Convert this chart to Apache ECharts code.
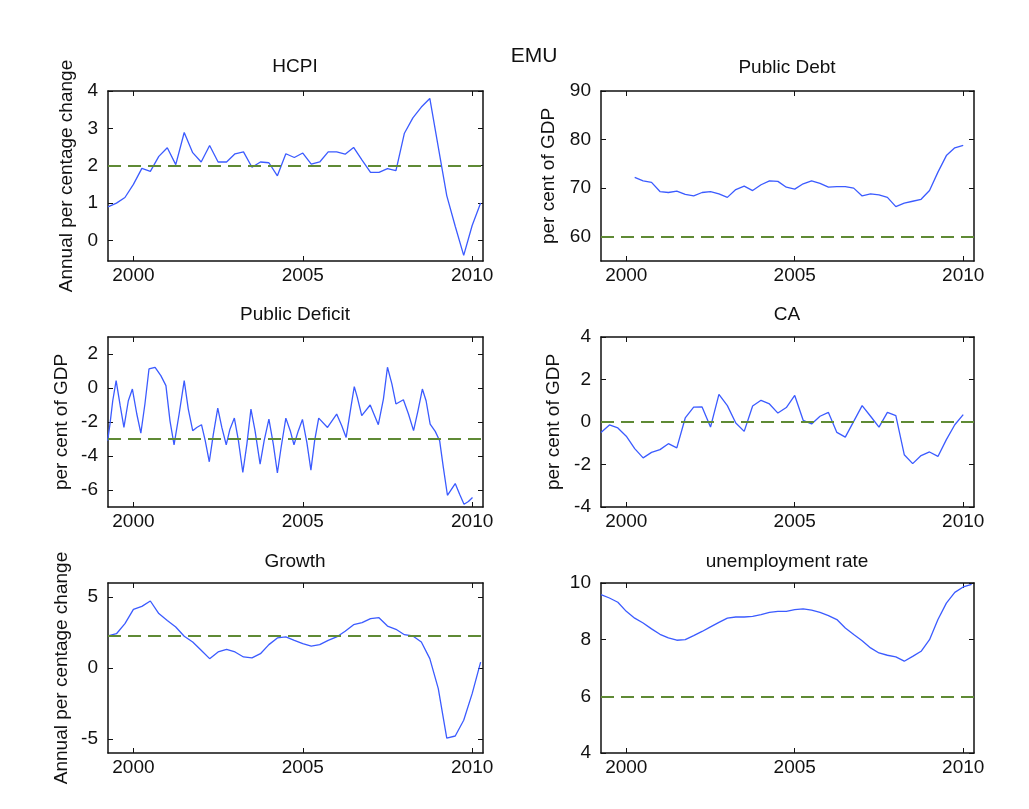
<!DOCTYPE html>
<html><head><meta charset="utf-8">
<script src="https://cdn.jsdelivr.net/npm/echarts@6/dist/echarts.min.js"></script>
<style>html,body{margin:0;padding:0;background:#fff}#c{width:1029px;height:809px}</style>
</head><body><div id="c"></div>
<script>
// ---- data ----
const quarters = [1999.25,1999.5,1999.75,2000.0,2000.25,2000.5,2000.75,2001.0,2001.25,2001.5,2001.75,2002.0,2002.25,2002.5,2002.75,2003.0,2003.25,2003.5,2003.75,2004.0,2004.25,2004.5,2004.75,2005.0,2005.25,2005.5,2005.75,2006.0,2006.25,2006.5,2006.75,2007.0,2007.25,2007.5,2007.75,2008.0,2008.25,2008.5,2008.75,2009.0,2009.25,2009.5,2009.75,2010.0,2010.25];
const hcpi = [0.90,1.00,1.15,1.50,1.93,1.85,2.25,2.48,2.03,2.89,2.35,2.10,2.54,2.10,2.10,2.32,2.37,1.96,2.10,2.08,1.73,2.32,2.22,2.34,2.04,2.10,2.37,2.37,2.31,2.49,2.15,1.82,1.82,1.92,1.87,2.87,3.28,3.57,3.80,2.50,1.20,0.38,-0.40,0.40,1.00];
const publicDebt = [null,null,null,null,72.2,71.5,71.2,69.3,69.1,69.4,68.7,68.4,69.1,69.3,68.8,68.1,69.7,70.4,69.5,70.7,71.5,71.4,70.2,69.8,70.9,71.5,71.0,70.2,70.3,70.3,70.0,68.4,68.8,68.6,68.1,66.2,66.9,67.3,67.7,69.5,73.3,76.7,78.3,78.8,null];
const currentAccount = [-0.49,-0.14,-0.28,-0.67,-1.25,-1.69,-1.43,-1.30,-1.02,-1.22,0.19,0.70,0.71,-0.24,1.30,0.77,-0.05,-0.44,0.75,1.02,0.85,0.42,0.68,1.25,0.08,-0.09,0.27,0.45,-0.49,-0.71,0.03,0.77,0.27,-0.24,0.45,0.30,-1.54,-1.96,-1.58,-1.41,-1.62,-0.83,-0.13,0.35,null];
const growth = [2.26,2.42,3.13,4.14,4.35,4.73,3.84,3.36,2.89,2.24,1.84,1.25,0.66,1.13,1.32,1.13,0.78,0.71,1.01,1.65,2.12,2.19,1.95,1.72,1.55,1.65,1.95,2.19,2.59,3.06,3.20,3.48,3.55,2.96,2.73,2.35,2.26,1.84,0.66,-1.46,-4.95,-4.80,-3.69,-1.81,0.42];
const unemployment = [9.59,9.47,9.32,9.00,8.76,8.59,8.38,8.19,8.06,7.98,8.00,8.14,8.29,8.45,8.61,8.76,8.80,8.80,8.82,8.88,8.96,9.00,9.00,9.06,9.09,9.04,8.96,8.85,8.71,8.41,8.18,7.96,7.71,7.53,7.45,7.39,7.24,7.41,7.59,8.00,8.71,9.29,9.67,9.86,9.95];
const deficitDates = [1999.24,1999.31,1999.39,1999.49,1999.61,1999.72,1999.85,1999.97,2000.10,2000.22,2000.34,2000.46,2000.64,2000.81,2000.96,2001.08,2001.20,2001.35,2001.50,2001.62,2001.75,2001.87,2002.01,2002.12,2002.24,2002.36,2002.49,2002.61,2002.74,2002.85,2002.98,2003.10,2003.23,2003.35,2003.47,2003.59,2003.74,2003.86,2004.00,2004.13,2004.25,2004.36,2004.50,2004.63,2004.74,2004.87,2004.99,2005.12,2005.24,2005.35,2005.47,2005.73,2006.00,2006.15,2006.28,2006.42,2006.52,2006.61,2006.74,2006.99,2007.23,2007.38,2007.50,2007.63,2007.75,2007.97,2008.12,2008.27,2008.40,2008.53,2008.64,2008.76,2008.91,2009.04,2009.15,2009.27,2009.50,2009.63,2009.76,2009.89,2010.01];
const publicDeficit = [-3.1,-2.1,-0.75,0.43,-1.04,-2.32,-0.75,-0.06,-1.53,-2.65,-0.94,1.12,1.22,0.73,0.14,-1.93,-3.34,-1.53,0.43,-1.24,-2.51,-2.32,-2.16,-3.1,-4.34,-2.71,-1.18,-2.32,-3.34,-2.42,-1.77,-3.1,-4.97,-3.3,-1.24,-2.51,-4.48,-3.1,-1.83,-3.3,-5.0,-3.5,-1.77,-2.51,-3.34,-2.51,-1.85,-3.2,-4.83,-3.1,-1.77,-2.32,-1.53,-2.22,-2.91,-1.14,0.08,-0.55,-1.63,-1.0,-2.16,-0.65,1.22,0.24,-0.94,-0.69,-1.53,-2.51,-1.34,-0.06,-0.75,-2.12,-2.55,-3.1,-4.68,-6.31,-5.62,-6.25,-6.84,-6.68,-6.44];
const refLevels = [2, 60, -3, 0, 2.3, 6];
const xTicks = [2000, 2005, 2010];
const hcpiTicks = [0, 1, 2, 3, 4];
const debtTicks = [60, 70, 80, 90];
const deficitTicks = [-6, -4, -2, 0, 2];
const caTicks = [-4, -2, 0, 2, 4];
const growthTicks = [-5, 0, 5];
const unempTicks = [4, 6, 8, 10];
const titles = ['HCPI', 'Public Debt', 'Public Deficit', 'CA', 'Growth', 'unemployment rate'];
const yNames = ['Annual per centage change', 'per cent of GDP', 'per cent of GDP', 'per cent of GDP', 'Annual per centage change', ''];

// ---- layout ----
const FONT = '"Liberation Sans", Arial, sans-serif';
const FS = 19;
const BLUE = '#3b5bff', GREEN = '#5f8a35', INK = '#111';
const zip = (xs, ys) => xs.map((x, i) => [x, ys[i]]);
const panels = [
  {left: 108, top: 91, width: 375, min: -0.55, max: 4, ticks: hcpiTicks, data: zip(quarters, hcpi), gap: 32, tx: 295, ty: 67},
  {left: 601, top: 91, width: 373, min: 55, max: 90, ticks: debtTicks, data: zip(quarters, publicDebt), gap: 43, tx: 787, ty: 68},
  {left: 108, top: 337, width: 375, min: -7, max: 3, ticks: deficitTicks, data: zip(deficitDates, publicDeficit), gap: 37, tx: 295, ty: 315},
  {left: 601, top: 337, width: 373, min: -4, max: 4, ticks: caTicks, data: zip(quarters, currentAccount), gap: 38, tx: 787, ty: 315},
  {left: 108, top: 583, width: 375, min: -6, max: 6, ticks: growthTicks, data: zip(quarters, growth), gap: 37, tx: 295, ty: 562},
  {left: 601, top: 583, width: 373, min: 4, max: 10, ticks: unempTicks, data: zip(quarters, unemployment), gap: 38, tx: 787, ty: 562}
];
const XMIN = 1999.25, XMAX = 2010.32;
const lineAxis = {show: true, onZero: false, lineStyle: {color: INK, width: 1.5}};
const grid = [], xAxis = [], yAxis = [], series = [], graphic = [];
panels.forEach((p, i) => {
  grid.push({left: p.left, top: p.top, width: p.width, height: 170, containLabel: false});
  const xBase = {type: 'value', gridIndex: i, min: XMIN, max: XMAX, axisLine: lineAxis, splitLine: {show: false},
    axisTick: {show: true, inside: true, length: 5, customValues: xTicks, lineStyle: {color: INK, width: 1}}};
  xAxis.push(Object.assign({}, xBase, {position: 'bottom',
    axisLabel: {show: true, customValues: xTicks, margin: 5, fontSize: FS, color: INK, fontFamily: FONT, formatter: v => String(v)}}));
  xAxis.push(Object.assign({}, xBase, {position: 'top', axisLabel: {show: false}}));
  const yBase = {type: 'value', gridIndex: i, min: p.min, max: p.max, axisLine: lineAxis, splitLine: {show: false},
    axisTick: {show: true, inside: true, length: 5, customValues: p.ticks, lineStyle: {color: INK, width: 1}}};
  yAxis.push(Object.assign({}, yBase, {position: 'left',
    name: yNames[i], nameLocation: 'middle', nameRotate: 90, nameGap: p.gap,
    nameTextStyle: {fontSize: FS, color: INK, fontFamily: FONT},
    axisLabel: {show: true, customValues: p.ticks, margin: 10, fontSize: FS, color: INK, fontFamily: FONT, formatter: v => String(v)}}));
  yAxis.push(Object.assign({}, yBase, {position: 'right', axisLabel: {show: false}}));
  series.push({type: 'line', xAxisIndex: 2 * i, yAxisIndex: 2 * i, data: p.data, showSymbol: false, symbol: 'none',
    connectNulls: false, animation: false, lineStyle: {color: BLUE, width: 1.3},
    markLine: {silent: true, symbol: 'none', animation: false, label: {show: false},
      lineStyle: {color: GREEN, width: 1.8, type: [13, 7]}, data: [{yAxis: refLevels[i]}]}});
  graphic.push({type: 'text', style: {text: titles[i], x: p.tx, y: p.ty, align: 'center', verticalAlign: 'middle',
    fontSize: FS, fill: INK, fontFamily: FONT}});
});
graphic.push({type: 'text', style: {text: 'EMU', x: 534, y: 56, align: 'center', verticalAlign: 'middle', fontSize: 21, fill: INK, fontFamily: FONT}});

const chart = echarts.init(document.getElementById('c'), null, {renderer: 'canvas'});
chart.setOption({backgroundColor: '#fff', animation: false, grid, xAxis, yAxis, series, graphic});
</script></body></html>
